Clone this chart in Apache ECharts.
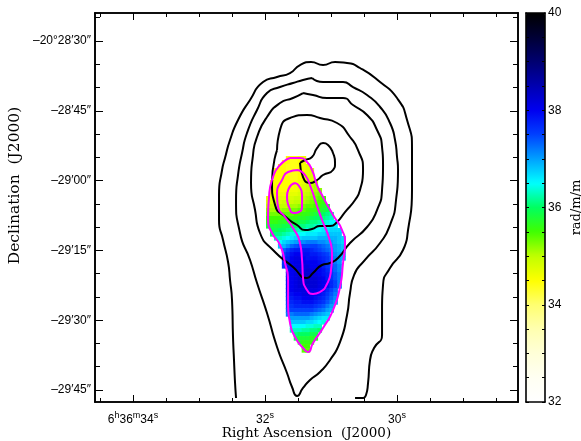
<!DOCTYPE html>
<html><head><meta charset="utf-8">
<script src="https://cdn.jsdelivr.net/npm/echarts@6/dist/echarts.min.js"></script>
<style>html,body{margin:0;padding:0;background:#fff}#c{width:581px;height:441px}</style>
</head><body><div id="c"></div>
<script>
// ---- axis extents / ticks (RA in seconds of 6h36m, Dec as arcsec offset from -20d28'00") ----
const raRange = [28.167, 34.576];
const decRange = [-107.58, -23.98];
const raMajor = [30, 32, 34];
const raMajorLabels = ['{n|30}{s|s}', '{n|32}{s|s}', '{n|6}{s|h}{n|36}{s|m}{n|34}{s|s}'];
const raMinor = [28.5, 29, 29.5, 30.5, 31, 31.5, 32.5, 33, 33.5, 34.5];
const decMajor = [-105, -90, -75, -60, -45, -30];
const decMajorLabels = ['\u201329\u203245\u2033', '\u201329\u203230\u2033', '\u201329\u203215\u2033', '\u201329\u203200\u2033', '\u201328\u203245\u2033', '\u201320\u00b028\u203230\u2033'];
const decMinor = [-100, -95, -85, -80, -70, -65, -55, -50, -40, -35, -25];

// ---- RM map pixel grid ----
const rmCellRA = 0.06, rmCellDec = 0.86;
const rmRA = [31.955, 31.895, 31.835, 31.775, 31.715, 31.655, 31.595, 31.535, 31.475, 31.415,
              31.355, 31.295, 31.235, 31.175, 31.115, 31.055, 30.995, 30.935, 30.875, 30.815];
const rmDec = [-55.14, -56.00, -56.86, -57.72, -58.58, -59.44, -60.30, -61.16, -62.02, -62.88,
               -63.74, -64.60, -65.46, -66.32, -67.18, -68.04, -68.90, -69.76, -70.62, -71.48,
               -72.34, -73.20, -74.06, -74.92, -75.78, -76.64, -77.50, -78.36, -79.22, -80.08,
               -80.94, -81.80, -82.66, -83.52, -84.38, -85.24, -86.10, -86.96, -87.82, -88.68,
               -89.54, -90.40, -91.26, -92.12, -92.98, -93.84, -94.70, -95.56, -96.42];
// each row: [first column index, values ...]  (rad/m/m)
const rmRows = [
 [5, 34.5,34.4,34.4,34.5,34.6],
 [4, 34.5,34.5,34.4,34.4,34.5,34.6],
 [3, 34.5,34.5,34.4,34.4,34.4,34.5,34.6,34.7],
 [2, 34.5,34.5,34.5,34.4,34.4,34.4,34.5,34.6,34.7,34.8],
 [2, 34.5,34.5,34.5,34.4,34.4,34.4,34.5,34.6,34.7,34.8],
 [2, 34.5,34.5,34.5,34.5,34.4,34.4,34.5,34.6,34.7,34.8],
 [1, 34.6,34.5,34.5,34.5,34.5,34.5,34.5,34.6,34.7,34.8,34.9,35.0],
 [1, 34.6,34.5,34.5,34.5,34.5,34.5,34.6,34.7,34.8,34.9,35.0,35.1],
 [1, 34.6,34.5,34.5,34.5,34.5,34.6,34.6,34.7,34.8,34.9,35.0,35.1,35.2],
 [1, 34.6,34.6,34.6,34.6,34.6,34.7,34.7,34.8,34.9,35.0,35.1,35.2,35.3],
 [0, 34.7,34.7,34.7,34.7,34.7,34.8,34.8,34.9,34.9,35.0,35.1,35.2,35.3,35.4,35.5],
 [0, 34.8,34.8,34.8,34.8,34.9,34.9,34.9,35.0,35.0,35.1,35.2,35.3,35.4,35.5,35.6],
 [0, 35.0,35.0,35.0,35.0,35.0,35.0,35.1,35.1,35.2,35.3,35.4,35.4,35.5,35.6,35.7,35.8],
 [0, 35.2,35.1,35.1,35.1,35.2,35.2,35.3,35.3,35.4,35.4,35.5,35.6,35.6,35.7,35.8,35.9],
 [0, 35.3,35.3,35.3,35.3,35.4,35.4,35.4,35.5,35.5,35.6,35.6,35.7,35.8,35.9,36.0,36.1,36.2],
 [0, 35.5,35.5,35.5,35.5,35.5,35.6,35.6,35.6,35.7,35.7,35.8,35.9,36.0,36.0,36.1,36.2,36.3],
 [0, 35.6,35.6,35.6,35.7,35.7,35.7,35.8,35.8,35.9,35.9,36.0,36.1,36.1,36.2,36.3,36.4,36.5,36.5],
 [0, 35.8,35.8,35.8,35.8,35.9,35.9,36.0,36.0,36.1,36.1,36.2,36.2,36.3,36.4,36.5,36.5,36.6,36.6],
 [1, 35.9,35.9,36.0,36.0,36.1,36.2,36.2,36.3,36.3,36.4,36.4,36.5,36.5,36.6,36.6,36.7,36.7,36.7],
 [1, 36.0,36.1,36.1,36.2,36.3,36.4,36.4,36.5,36.5,36.6,36.6,36.6,36.7,36.7,36.8,36.8,36.8,36.8],
 [2, 36.3,36.3,36.4,36.5,36.6,36.7,36.7,36.8,36.8,36.8,36.8,36.9,36.9,36.9,36.9,36.9,36.8,36.7],
 [3, 36.5,36.7,36.8,36.9,37.0,37.1,37.1,37.2,37.2,37.2,37.1,37.1,37.0,37.0,36.9,36.8,36.7],
 [3, 36.8,36.9,37.1,37.3,37.4,37.5,37.5,37.5,37.5,37.5,37.4,37.3,37.2,37.1,37.0,36.9,36.8],
 [4, 37.3,37.5,37.7,37.8,37.8,37.8,37.8,37.7,37.6,37.5,37.4,37.3,37.2,37.0,36.9,36.8],
 [4, 37.5,37.7,37.9,38.0,38.0,37.9,37.9,37.8,37.8,37.7,37.6,37.5,37.3,37.1,37.0,36.9],
 [4, 37.6,37.8,38.0,38.1,38.1,38.0,37.9,37.9,37.9,37.8,37.7,37.6,37.4,37.2,37.0,36.9],
 [4, 37.6,37.9,38.0,38.1,38.1,38.1,38.0,38.0,38.0,37.9,37.8,37.6,37.4,37.2,37.0],
 [4, 37.6,37.9,38.0,38.1,38.1,38.1,38.1,38.0,38.0,38.0,37.8,37.6,37.5,37.3,37.1],
 [5, 37.9,38.0,38.1,38.1,38.1,38.2,38.1,38.1,38.0,37.9,37.7,37.5,37.3,37.1],
 [5, 37.9,38.0,38.1,38.1,38.2,38.2,38.2,38.1,38.0,37.9,37.8,37.6,37.4,37.2],
 [5, 37.9,38.0,38.1,38.2,38.2,38.2,38.2,38.2,38.1,38.0,37.8,37.6,37.4,37.2],
 [5, 37.9,38.0,38.1,38.2,38.2,38.3,38.2,38.2,38.1,38.0,37.9,37.7,37.5,37.2],
 [5, 37.9,38.0,38.1,38.2,38.2,38.2,38.2,38.2,38.1,38.0,37.9,37.7,37.5,37.2],
 [5, 37.9,38.0,38.1,38.1,38.1,38.1,38.1,38.1,38.0,37.9,37.7,37.5,37.3],
 [5, 37.8,37.9,38.0,38.0,38.1,38.1,38.1,38.0,37.9,37.8,37.6,37.4,37.2],
 [5, 37.7,37.8,37.9,37.9,38.0,38.0,38.0,37.9,37.8,37.7,37.5,37.3,37.1],
 [5, 37.6,37.7,37.8,37.8,37.9,37.9,37.9,37.8,37.7,37.6,37.4,37.2,37.0],
 [5, 37.5,37.6,37.7,37.7,37.7,37.7,37.7,37.6,37.5,37.4,37.2,37.0],
 [5, 37.4,37.5,37.5,37.5,37.5,37.5,37.5,37.4,37.3,37.2,37.0,36.9],
 [5, 37.2,37.2,37.3,37.3,37.3,37.3,37.2,37.1,37.0,36.9,36.8],
 [6, 37.0,37.0,37.0,37.0,37.0,36.9,36.8,36.7,36.6,36.6],
 [6, 36.8,36.8,36.8,36.8,36.7,36.7,36.6,36.5,36.4],
 [6, 36.5,36.5,36.5,36.5,36.4,36.4,36.3,36.3],
 [6, 36.3,36.3,36.3,36.2,36.2,36.1,36.1,36.0],
 [7, 36.1,36.0,36.0,36.0,35.9,35.9],
 [7, 35.9,35.8,35.8,35.8,35.7,35.7],
 [8, 35.7,35.6,35.6,35.6],
 [9, 35.5,35.5],
 [9, 35.4,35.4]
];

// ---- contours: [RA s, Dec offset arcsec] ----
const totalContour1 = [[32.439,-106.72],[32.454,-103.50],[32.470,-98.55],[32.485,-93.61],[32.500,-85.66],[32.530,-81.36],[32.560,-77.49],[32.636,-72.77],[32.697,-68.47],[32.697,-63.10],[32.651,-57.72],[32.606,-55.14],[32.530,-51.28],[32.409,-46.98],[32.227,-42.68],[32.030,-38.81],[31.818,-37.74],[31.621,-36.88],[31.470,-35.16],[31.303,-34.51],[31.121,-35.16],[30.939,-34.51],[30.757,-34.73],[30.561,-35.80],[30.257,-38.81],[30.000,-42.25],[29.848,-46.98],[29.773,-53.43],[29.773,-62.02],[29.833,-70.62],[29.909,-74.92],[30.106,-78.78],[30.212,-82.44],[30.227,-87.81],[30.227,-93.18],[30.348,-95.98],[30.409,-98.55],[30.439,-103.50],[30.470,-106.08],[30.545,-106.72],[30.636,-106.72]];
const totalContour2 = [[31.288,-37.95],[31.424,-38.38],[31.576,-39.03],[31.773,-39.89],[31.970,-41.18],[32.121,-44.83],[32.273,-49.77],[32.348,-54.07],[32.409,-58.80],[32.439,-64.17],[32.379,-71.26],[32.227,-77.06],[32.121,-82.01],[31.970,-88.45],[31.818,-95.76],[31.667,-101.35],[31.591,-104.36],[31.515,-106.29],[31.424,-104.57],[31.318,-102.85],[31.167,-101.13],[31.015,-98.55],[30.864,-94.69],[30.757,-88.88],[30.712,-84.16],[30.651,-80.29],[30.485,-77.06],[30.257,-73.41],[30.106,-69.54],[30.015,-64.17],[29.985,-57.72],[30.000,-54.93],[30.030,-51.28],[30.106,-47.62],[30.257,-44.18],[30.454,-41.61],[30.667,-39.89],[30.818,-38.81],[30.939,-38.81],[31.121,-38.81],[31.288,-37.95]];
const totalContour3 = [[31.424,-41.18],[31.576,-42.25],[31.773,-43.33],[31.970,-46.33],[32.121,-50.63],[32.182,-54.50],[32.212,-60.52],[32.151,-66.32],[32.076,-71.26],[31.879,-74.92],[31.576,-78.57],[31.364,-80.93],[31.273,-79.86],[31.136,-78.14],[31.015,-77.71],[30.894,-76.63],[30.712,-73.41],[30.454,-69.97],[30.303,-66.32],[30.227,-62.02],[30.212,-56.65],[30.227,-52.78],[30.303,-49.13],[30.454,-45.90],[30.667,-43.76],[30.818,-42.25],[31.061,-42.25],[31.273,-41.61],[31.424,-41.18]];
const totalContour4 = [[31.818,-53.43],[31.773,-49.13],[31.621,-46.55],[31.364,-45.90],[31.167,-46.55],[30.909,-47.62],[30.712,-50.63],[30.591,-53.43],[30.515,-57.72],[30.561,-62.02],[30.636,-64.17],[30.788,-66.75],[30.909,-68.90],[31.015,-69.76],[31.167,-69.76],[31.288,-70.40],[31.394,-70.62],[31.515,-69.54],[31.667,-68.04],[31.848,-65.24],[31.894,-60.52],[31.818,-53.43]];
const totalContour5 = [[31.470,-56.22],[31.424,-59.23],[31.318,-60.52],[31.212,-59.87],[31.121,-58.80],[30.970,-57.72],[30.939,-56.22],[30.970,-54.07],[31.045,-52.35],[31.121,-51.92],[31.212,-53.00],[31.288,-54.93],[31.394,-55.57],[31.470,-56.22]];
const polContour1 = [[31.621,-55.14],[31.470,-55.14],[31.364,-56.00],[31.288,-57.72],[31.212,-60.95],[31.121,-63.53],[30.970,-67.39],[30.833,-70.62],[30.788,-73.41],[30.818,-77.71],[30.864,-82.87],[30.970,-87.81],[31.121,-91.68],[31.273,-94.90],[31.348,-96.84],[31.424,-95.98],[31.545,-93.61],[31.621,-90.60],[31.651,-86.31],[31.651,-81.36],[31.697,-77.71],[31.773,-73.84],[31.894,-71.26],[31.954,-68.47],[31.939,-63.53],[31.879,-59.23],[31.773,-56.65],[31.621,-55.14]];
const polContour2 = [[31.500,-57.72],[31.651,-58.15],[31.742,-59.87],[31.818,-62.67],[31.803,-65.67],[31.697,-67.82],[31.576,-70.19],[31.470,-73.41],[31.439,-77.06],[31.424,-80.93],[31.364,-83.51],[31.273,-84.37],[31.167,-83.94],[31.061,-82.22],[31.000,-79.21],[30.985,-75.99],[31.030,-72.34],[31.136,-68.47],[31.227,-64.81],[31.303,-61.59],[31.394,-58.80],[31.500,-57.72]];
const polContour3 = [[31.545,-60.52],[31.485,-61.16],[31.439,-63.10],[31.439,-65.24],[31.485,-66.75],[31.560,-66.96],[31.636,-65.67],[31.667,-63.53],[31.636,-61.59],[31.545,-60.52]];

// colour bar
const cbarRange = [32, 40];
const cbarColors = ['#ffffff','#fffff2','#ffffd8','#ffffb0','#ffff70','#ffff00','#c0ff00','#40ff00','#00ff60','#00ffff','#00a0ff','#0040ff','#0000f0','#0000b0','#000070','#000035','#000000'];

// ---- build ----
const rmData = [];
rmRows.forEach(function (row, r) {
  const c0 = row[0];
  for (let k = 1; k < row.length; k++) {
    const c = c0 + k - 1;
    if (c < rmRA.length) rmData.push([rmRA[c], rmDec[r], row[k]]);
  }
});

const sans = 'Liberation Sans';
const serif = 'DejaVu Serif';
function near(a, b) { return Math.abs(a - b) < 1e-6; }
function labelOf(vals, labels, v) {
  for (let i = 0; i < vals.length; i++) if (near(vals[i], v)) return labels[i];
  return '';
}
const axisLineStyle = { color: '#000', width: 1.6 };

function mkX(pos, ticks, len, withLabels) {
  const ax = {
    gridIndex: 0, type: 'value', inverse: true, min: raRange[0], max: raRange[1], position: pos,
    axisLine: { show: true, onZero: false, lineStyle: axisLineStyle },
    axisTick: { show: true, inside: true, length: len, customValues: ticks, lineStyle: { color: '#000', width: 1 } },
    axisLabel: { show: false },
    splitLine: { show: false }
  };
  if (withLabels) {
    ax.axisLabel = {
      show: true, customValues: raMajor, margin: 9, color: '#000',
      formatter: function (v) { return labelOf(raMajor, raMajorLabels, v); },
      rich: {
        n: { fontFamily: sans, fontSize: 12, color: '#000', lineHeight: 15, verticalAlign: 'bottom' },
        s: { fontFamily: sans, fontSize: 9, color: '#000', lineHeight: 15, verticalAlign: 'top', padding: [0, 0, 5, 0] }
      }
    };
    ax.name = 'Right Ascension  (J2000)';
    ax.nameLocation = 'middle';
    ax.nameGap = 24;
    ax.nameMoveOverlap = false;
    ax.nameTextStyle = { fontFamily: serif, fontSize: 13.5, color: '#000' };
  }
  return ax;
}
function mkY(pos, ticks, len, withLabels) {
  const ax = {
    gridIndex: 0, type: 'value', min: decRange[0], max: decRange[1], position: pos,
    axisLine: { show: true, onZero: false, lineStyle: axisLineStyle },
    axisTick: { show: true, inside: true, length: len, customValues: ticks, lineStyle: { color: '#000', width: 1 } },
    axisLabel: { show: false },
    splitLine: { show: false }
  };
  if (withLabels) {
    ax.axisLabel = {
      show: true, customValues: decMajor, margin: 4, color: '#000', fontFamily: sans, fontSize: 12,
      formatter: function (v) { return labelOf(decMajor, decMajorLabels, v); }
    };
    ax.name = 'Declination  (J2000)';
    ax.nameLocation = 'middle';
    ax.nameGap = 72;
    ax.nameMoveOverlap = false;
    ax.nameTextStyle = { fontFamily: serif, fontSize: 15.5, color: '#000', padding: [0, 0, 0, 44] };
  }
  return ax;
}

function contour(data, color) {
  return {
    type: 'line', xAxisIndex: 0, yAxisIndex: 0, data: data, smooth: 0.6, symbol: 'none',
    lineStyle: { color: color, width: 2 }, z: 5, silent: true, animation: false
  };
}

const chart = echarts.init(document.getElementById('c'), null, { renderer: 'canvas' });
chart.setOption({
  animation: false,
  backgroundColor: '#fff',
  grid: [
    { left: 95, top: 13, width: 423, height: 389, containLabel: false, outerBoundsMode: 'none' },
    { left: 526, top: 13, width: 19, height: 389, containLabel: false, outerBoundsMode: 'none' }
  ],
  xAxis: [
    mkX('bottom', raMajor, 7, true),
    mkX('bottom', raMinor, 4, false),
    mkX('top', raMajor, 7, false),
    mkX('top', raMinor, 4, false),
    { gridIndex: 1, type: 'value', min: 0, max: 1, position: 'bottom', z: 10,
      axisLine: { show: true, onZero: false, lineStyle: axisLineStyle }, axisTick: { show: false }, axisLabel: { show: false }, splitLine: { show: false } },
    { gridIndex: 1, type: 'value', min: 0, max: 1, position: 'top', z: 10,
      axisLine: { show: true, onZero: false, lineStyle: axisLineStyle }, axisTick: { show: false }, axisLabel: { show: false }, splitLine: { show: false } }
  ],
  yAxis: [
    mkY('left', decMajor, 8, true),
    mkY('left', decMinor, 5, false),
    mkY('right', decMajor, 8, false),
    mkY('right', decMinor, 5, false),
    { gridIndex: 1, type: 'value', min: cbarRange[0], max: cbarRange[1], interval: 0.5, position: 'right', z: 10,
      axisLine: { show: true, onZero: false, lineStyle: axisLineStyle },
      axisTick: { show: true, inside: true, length: 3, lineStyle: { color: '#000' } },
      axisLabel: { show: true, margin: 3, color: '#000', fontFamily: sans, fontSize: 12,
        formatter: function (v) { return (Math.abs(v % 2) < 1e-6) ? String(v) : ''; } },
      splitLine: { show: false },
      name: 'rad/m/m', nameLocation: 'middle', nameGap: 25, nameRotate: 90, nameMoveOverlap: false,
      nameTextStyle: { fontFamily: serif, fontSize: 13, color: '#000' } },
    { gridIndex: 1, type: 'value', min: cbarRange[0], max: cbarRange[1], interval: 0.5, position: 'left', z: 10,
      axisLine: { show: true, onZero: false, lineStyle: axisLineStyle },
      axisTick: { show: true, inside: true, length: 3, lineStyle: { color: '#000' } },
      axisLabel: { show: false }, splitLine: { show: false } }
  ],
  visualMap: {
    type: 'continuous', min: cbarRange[0], max: cbarRange[1], dimension: 2, seriesIndex: 0,
    left: 526, top: 13, itemWidth: 19, itemHeight: 389, padding: 0,
    calculable: false, hoverLink: false, text: null, showLabel: false,
    inRange: { color: cbarColors }, z: 4
  },
  series: [
    {
      type: 'custom', xAxisIndex: 0, yAxisIndex: 0, data: rmData, silent: true, z: 2,
      encode: { x: 0, y: 1 },
      renderItem: function (params, api) {
        const ra = api.value(0), dec = api.value(1);
        const a = api.coord([ra + rmCellRA / 2, dec + rmCellDec / 2]);
        const b = api.coord([ra - rmCellRA / 2, dec - rmCellDec / 2]);
        return {
          type: 'rect',
          shape: { x: Math.min(a[0], b[0]), y: Math.min(a[1], b[1]), width: Math.abs(b[0] - a[0]) + 0.6, height: Math.abs(b[1] - a[1]) + 0.6 },
          style: { fill: api.visual('color') }
        };
      }
    },
    contour(totalContour1, '#000'),
    contour(totalContour2, '#000'),
    contour(totalContour3, '#000'),
    contour(totalContour4, '#000'),
    contour(totalContour5, '#000'),
    contour(polContour1, '#ff00ff'),
    contour(polContour2, '#ff00ff'),
    contour(polContour3, '#ff00ff')
  ]
});
</script>
</body></html>
